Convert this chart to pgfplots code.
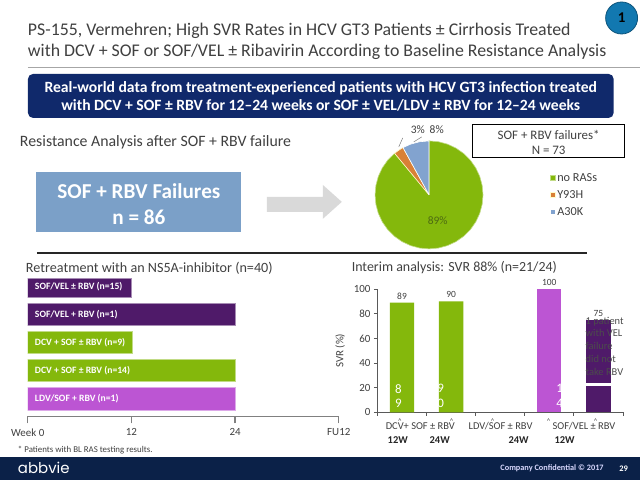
\documentclass[border=0pt]{standalone}
\usepackage{pgfplots}
\pgfplotsset{compat=1.18}
\usepgfplotslibrary{polar}
\usepackage{fontspec}
\setmainfont{Carlito}
\newfontfamily\logofont{Poppins}
\definecolor{navy}{HTML}{10296B}
\definecolor{foot}{HTML}{0B2148}
\definecolor{dkpurple}{HTML}{4F1A69}
\definecolor{ltpurple}{HTML}{BC55D3}
\definecolor{grn}{HTML}{84B80C}
\definecolor{stblue}{HTML}{7BA0C8}
\definecolor{pieorange}{HTML}{D98036}
\definecolor{pieblue}{HTML}{82A3CF}
\definecolor{txt}{HTML}{404040}
\definecolor{badge}{HTML}{1278B0}
\tikzset{px/.style={x=1bp,y=-1bp,every node/.append style={inner sep=0pt,outer sep=0pt,text=txt}}}
\begin{document}
\begin{tikzpicture}
\begin{scope}[px]
\fill[white] (0,0) rectangle (640,480);

% header
\node[anchor=west,font=\fontsize{17.9}{18}\selectfont] at (28,31) {PS-155, Vermehren; High SVR Rates in HCV GT3 Patients ± Cirrhosis Treated};
\node[anchor=west,font=\fontsize{17.9}{18}\selectfont] at (28,52) {with DCV + SOF or SOF/VEL ± Ribavirin According to Baseline Resistance Analysis};
\draw[gray!70,line width=0.8bp] (28,67) -- (640,67);
\fill[badge,draw=badge!70!black,line width=0.8bp] (622,18) circle (16);
\node[font=\bfseries\fontsize{15}{15}\selectfont,text=black] at (622,18) {1};
\fill[navy,rounded corners=5bp] (28,74) rectangle (614,118);
\node[font=\bfseries\fontsize{15.7}{16}\selectfont,text=white] at (321,88) {Real-world data from treatment-experienced patients with HCV GT3 infection treated};
\node[font=\bfseries\fontsize{15.7}{16}\selectfont,text=white] at (321,105) {with DCV + SOF ± RBV for 12–24 weeks or SOF ± VEL/LDV ± RBV for 12–24 weeks};

% resistance analysis row
\node[anchor=west,font=\fontsize{15.9}{16}\selectfont] at (20,142) {Resistance Analysis after SOF + RBV failure};
\fill[stblue] (36,172) rectangle (241,232);
\node[font=\bfseries\fontsize{21.3}{22}\selectfont,text=white] at (139,191) {SOF + RBV Failures};
\node[font=\bfseries\fontsize{21.3}{22}\selectfont,text=white] at (139,217) {n = 86};
\fill[gray!30] (267,197) -- (323,197) -- (323,185) -- (342,202) -- (323,219) -- (323,212) -- (267,212) -- cycle;
\draw[black,line width=1bp] (473,125) rectangle (625,158);
\node[font=\fontsize{13}{13}\selectfont] at (549,135) {SOF + RBV failures*};
\node[font=\fontsize{13}{13}\selectfont] at (549,150) {N =  73};
\draw[black!85,line width=2bp] (37,253) -- (587,253);
\node[font=\fontsize{11.5}{12}\selectfont] at (418,130) {3\%};
\node[font=\fontsize{11.5}{12}\selectfont] at (437,130) {8\%};
\draw[gray,line width=0.5bp] (403,138) -- (399,147);
\draw[gray,line width=0.5bp] (422,137) -- (414,142);
\node[anchor=west,font=\fontsize{14.2}{15}\selectfont] at (26,268) {Retreatment with an NS5A-inhibitor (n=40)};
\node[anchor=west,font=\fontsize{14}{15}\selectfont] at (352,268) {Interim analysis: SVR 88\% (n=21/24)};
\fill[foot] (0,457) rectangle (640,480);
\end{scope}

% pie
\begin{polaraxis}[at={(375.3bp,-249bp)},anchor=south west,scale only axis,width=108bp,height=108bp,
  axis lines=none,ymin=0,ymax=1,clip=false,
  legend style={at={(1.59,0.5)},anchor=west,draw=none,fill=none,font=\fontsize{12.3}{12}\selectfont,
    row sep=3.5bp,legend cell align=left,nodes={text=txt}},
  legend image code/.code={\fill[#1] (0cm,-0.09cm) rectangle (0.17cm,0.09cm);}]
\addplot[fill=grn,draw=grn!50!white,line width=0.6bp] coordinates {(0,0) (129.6,1) (140,1) (150,1) (160,1) (170,1) (180,1) (190,1) (200,1) (210,1) (220,1) (230,1) (240,1) (250,1) (260,1) (270,1) (280,1) (290,1) (300,1) (310,1) (320,1) (330,1) (340,1) (350,1) (360,1) (370,1) (380,1) (390,1) (400,1) (410,1) (420,1) (430,1) (440,1) (450,1) (0,0)};
\addlegendentry{no RASs}
\addplot[fill=pieorange,draw=white!80!yellow,line width=0.6bp] coordinates {(0,0) (118.8,1) (124,1) (129.6,1) (0,0)};
\addlegendentry{Y93H}
\addplot[fill=pieblue,draw=white,line width=0.6bp] coordinates {(0,0) (90,1) (100,1) (110,1) (118.8,1) (0,0)};
\addlegendentry{A30K}
\end{polaraxis}

% left timeline
\begin{axis}[at={(27.7bp,-416.7bp)},anchor=south west,scale only axis,width=311.3bp,height=140bp,
  xmin=0,xmax=36,ymin=0,ymax=140,
  axis x line=bottom,axis y line=none,axis line style={draw=gray,line width=1.2bp,-},
  xtick={0,12,24,36},xticklabels={Week 0,12,24,FU12},
  tick align=outside,tick style={draw=gray,line width=1.2bp},major tick length=7bp,
  x tick label style={font=\fontsize{11}{11}\selectfont,text=txt,yshift=-1.5bp},
  xbar,bar shift=0pt]
\addplot[fill=ltpurple,draw=ltpurple!50!white,bar width=22.5bp,line width=0.5bp] coordinates {(24,17.6)};
\addplot[fill=grn,draw=grn!50!white,bar width=22.5bp,line width=0.5bp] coordinates {(24,46)};
\addplot[fill=grn,draw=grn!50!white,bar width=22bp,line width=0.5bp] coordinates {(12.1,74)};
\addplot[fill=dkpurple,draw=dkpurple!50!white,bar width=22.5bp,line width=0.5bp] coordinates {(24,102.2)};
\addplot[fill=dkpurple,draw=dkpurple!50!white,bar width=19bp,line width=0.5bp] coordinates {(12,129)};
\end{axis}

% right bars
\begin{axis}[at={(377.7bp,-412.7bp)},anchor=south west,scale only axis,width=245.6bp,height=123.4bp,
  xmin=-0.5,xmax=4.5,ymin=0,ymax=100,
  /pgf/number format/assume math mode=true,
  axis x line=bottom,axis y line=left,axis line style={draw=gray!70!black,line width=0.7bp,-},
  xtick={-0.5,0.5,1.5,2.5,3.5,4.5},xticklabels={},
  ytick={0,20,...,100},tick align=outside,tick style={draw=gray!70!black,line width=0.7bp},major tick length=3.5bp,
  y tick label style={font=\fontsize{11}{11}\selectfont,text=txt},
  ylabel={SVR (\%)},ylabel style={font=\fontsize{11}{11}\selectfont,text=txt,yshift=2bp},
  ybar,bar shift=0pt,bar width=24.3bp,clip=false,
  nodes near coords style={font=\fontsize{9.5}{10}\selectfont,text=txt}]
\addplot[fill=grn,draw=none,nodes near coords] coordinates {(0,89) (1,90)};
\addplot[fill=ltpurple,draw=none,nodes near coords] coordinates {(3,100)};
\addplot[fill=dkpurple,draw=none,nodes near coords] coordinates {(4,75)};
\addplot[fill=white,draw=none] coordinates {(4,24.2)};
\addplot[fill=dkpurple,draw=none] coordinates {(4,21.3)};
\end{axis}

\begin{scope}[px]
\node[font=\fontsize{11.5}{12}\selectfont,text={rgb,255:red,78;green,107;blue,18}] at (438,221) {89\%};
\foreach \yy/\lab in {287/{SOF/VEL ± RBV (n=15)},315/{SOF/VEL + RBV (n=1)},342.7/{DCV + SOF ± RBV (n=9)},371/{DCV + SOF ± RBV (n=14)},399/{LDV/SOF + RBV (n=1)}}
  \node[anchor=west,font=\bfseries\fontsize{9.7}{10}\selectfont,text=white] at (35,\yy) {\lab};
\node[anchor=west,font=\fontsize{8.9}{9}\selectfont] at (18,450.5) {*  Patients with BL RAS testing results.};
\foreach \xx/\a/\b in {398.7/8/9,441/9/0,560/1/4} {
  \node[font=\fontsize{13}{13}\selectfont,text=white] at (\xx,389) {\a};
  \node[font=\fontsize{13}{13}\selectfont,text=white] at (\xx,404) {\b};
}
\node[align=left,anchor=north west,font=\fontsize{10.5}{13}\selectfont,text=black!70] at (586,317) {1 patient\\with VEL\\failure\\did not\\take RBV};
\node[anchor=west,font=\fontsize{10.5}{11}\selectfont] at (386,426) {DCV+ SOF ± RBV};
\node[anchor=west,font=\fontsize{10.5}{11}\selectfont] at (469,426) {LDV/SOF ± RBV};
\node[anchor=west,font=\fontsize{10.5}{11}\selectfont] at (553,426) {SOF/VEL ± RBV};
\foreach \xx in {400,452,493,549,596}
  \node[font=\fontsize{7}{7}\selectfont] at (\xx,421) {\^{}};
\foreach \xx/\w in {398/12W,440/24W,519/24W,565/12W}
  \node[font=\bfseries\fontsize{10.5}{11}\selectfont,text=black!85] at (\xx,440) {\w};

% footer text
\node[anchor=west,font=\logofont\fontsize{15}{15}\selectfont,text=white] at (18,468) {abbvie};
\node[anchor=east,font=\bfseries\fontsize{8.3}{9}\selectfont,text=white!85!blue] at (604,469) {Company Confidential © 2017};
\node[font=\bfseries\fontsize{8.5}{9}\selectfont,text=white] at (624,469) {29};
\end{scope}
\path[use as bounding box] (0,0) rectangle (640bp,-480bp);
\end{tikzpicture}
\end{document}
